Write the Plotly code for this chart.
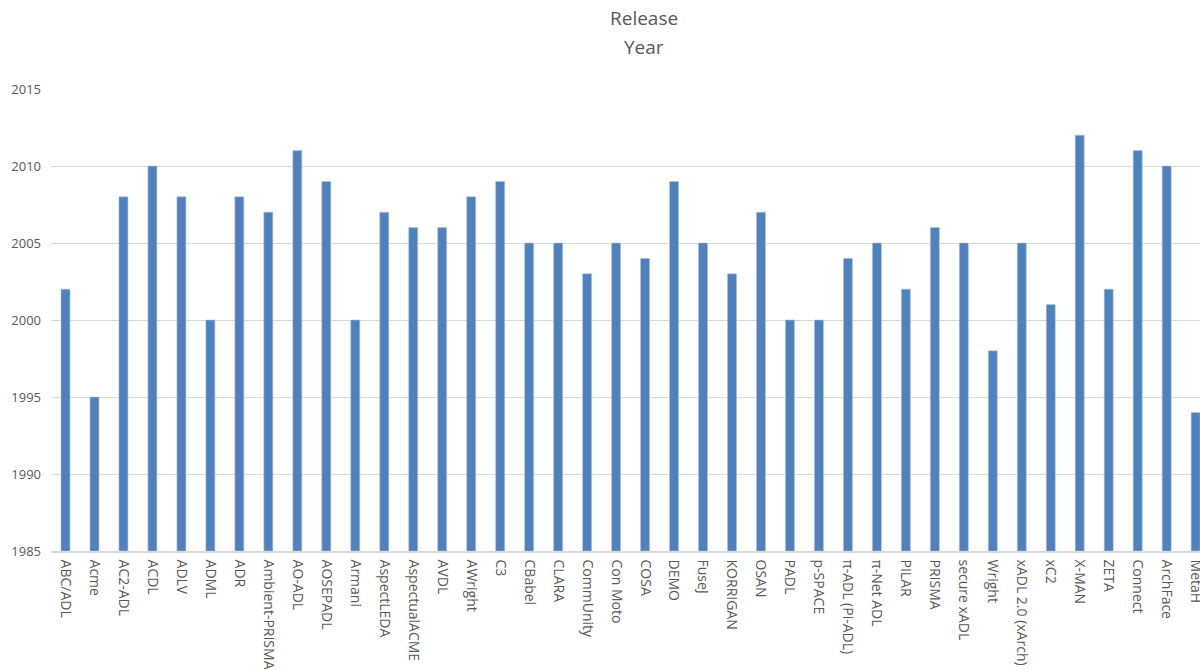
import plotly.graph_objects as go

categories = ["ABC/ADL", "Acme", "AC2-ADL", "ACDL", "ADLV", "ADML", "ADR", "Ambient-PRISMA",
              "AO-ADL", "AOSEPADL", "Armani", "AspectLEDA", "AspectualACME", "AVDL", "AWright",
              "C3", "CBabel", "CLARA", "CommUnity", "Con Moto", "COSA", "DEMO", "FuseJ",
              "KORRIGAN", "OSAN", "PADL", "p-SPACE", "π-ADL (Pi-ADL)", "π-Net ADL", "PILAR",
              "PRISMA", "secure xADL", "Wright", "xADL 2.0 (xArch)", "xC2", "X-MAN", "ZETA",
              "Connect", "ArchFace", "MetaH"]
release_year = [2002, 1995, 2008, 2010, 2008, 2000, 2008, 2007, 2011, 2009, 2000, 2007, 2006,
                2006, 2008, 2009, 2005, 2005, 2003, 2005, 2004, 2009, 2005, 2003, 2007, 2000,
                2000, 2004, 2005, 2002, 2006, 2005, 1998, 2005, 2001, 2012, 2002, 2011, 2010,
                1994]
y_ticks = [1985, 1990, 1995, 2000, 2005, 2010, 2015]

FONT = "Open Sans"
GRAY = "#595959"

fig = go.Figure()
fig.add_trace(go.Bar(
    x=categories,
    y=[v - 1985 for v in release_year],
    base=1985,
    marker=dict(color="#4f81bd", line=dict(color="#a9c1e0", width=0.6)),
    hoverinfo="x+y",
))

fig.update_layout(
    width=1200, height=670,
    margin=dict(l=51, r=0, t=89, b=119),
    paper_bgcolor="white", plot_bgcolor="white",
    showlegend=False,
    bargap=0.69,
    font=dict(family=FONT, color=GRAY),
    xaxis=dict(
        type="category",
        range=[-0.5, 39.15],
        tickangle=90,
        tickfont=dict(family=FONT, size=14, color=GRAY),
        showgrid=False,
        showline=True, linecolor="#d9d9d9", linewidth=1.5,
        ticks="outside", ticklen=4, tickcolor="white",
        automargin=False,
    ),
    yaxis=dict(
        range=[1985, 2015],
        tickvals=y_ticks,
        ticktext=[str(t) for t in y_ticks],
        tickfont=dict(family=FONT, size=13, color=GRAY),
        showgrid=True, gridcolor="#d9d9d9", gridwidth=1.2,
        zeroline=False,
        showline=False,
        ticklabelstandoff=9,
        automargin=False,
    ),
    annotations=[
        dict(text="Release", xref="paper", yref="paper", x=(644 - 51) / 1149, y=1,
             xanchor="center", yanchor="bottom", yshift=89 - 33, showarrow=False,
             font=dict(family=FONT, size=19, color=GRAY)),
        dict(text="Year", xref="paper", yref="paper", x=(644 - 51) / 1149, y=1,
             xanchor="center", yanchor="bottom", yshift=89 - 62, showarrow=False,
             font=dict(family=FONT, size=19, color=GRAY)),
    ],
)

fig.write_html("out.html")
